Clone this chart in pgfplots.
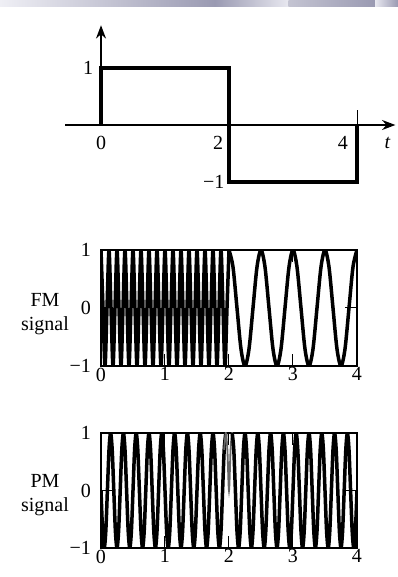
\documentclass[border=0pt]{standalone}
\usepackage{fontspec}
\setmainfont{Liberation Serif}
\usepackage{pgfplots}
\pgfplotsset{compat=1.18}
\usetikzlibrary{arrows.meta}

\definecolor{barA}{HTML}{EFEFF5}
\definecolor{barB}{HTML}{9A9AB2}
\definecolor{barC}{HTML}{E8E8F0}
\definecolor{barD}{HTML}{C4C4D2}

\pgfplotsset{
  sig/.style={
    scale only axis, width=153.6pt,
    xmin=0, xmax=4, ymin=-1, ymax=1,
    xtick={0,1,2,3,4}, ytick={-1,0,1},
    yticklabels={−1,0,1},
    tick align=inside, major tick length=7pt,
    axis line style={line width=1.1pt},
    tick style={line width=0.6pt, black},
    ticklabel style={font=\fontsize{12}{14}\selectfont},
    /pgf/number format/assume math mode=true,
    yticklabel style={xshift=-2.5pt},
    xticklabel style={yshift=2.5pt},
  },
  wave/.style={black, line width=2.1pt, smooth},
}

\begin{document}
\begin{tikzpicture}[font=\fontsize{12}{14}\selectfont]
\useasboundingbox (0,0) rectangle (238.8pt,346.2pt);
% header strip
\shade[left color=barA, right color=barB] (0,342.3pt) rectangle (129pt,346.2pt);
\shade[left color=barB, right color=barC] (129pt,342.3pt) rectangle (173pt,346.2pt);
\shade[left color=barD, right color=barB] (173pt,342.3pt) rectangle (225pt,346.2pt);
\shade[left color=barC, right color=barB] (225pt,342.3pt) rectangle (238.8pt,346.2pt);

% message signal
\begin{axis}[at={(39pt,230.16pt)}, anchor=south west, scale only axis,
  width=198.24pt, height=100.89pt,
  xmin=-0.5625, xmax=4.6, ymin=-1.2, ymax=1.75,
  axis lines=none, clip=false]
\draw[line width=1pt, -{Stealth[length=8pt,width=6pt]}] (axis cs:-0.5625,0) -- (axis cs:4.6,0);
\draw[line width=1pt, -{Stealth[length=8pt,width=6pt]}] (axis cs:0,0) -- (axis cs:0,1.75);
\draw[line width=0.6pt] (axis cs:4,0) -- (axis cs:4,0.26);
\addplot[black, line width=2.6pt, line join=miter] coordinates {
  (0,0) (0,1) (2,1) (2,-1) (4,-1) (4,0)
};
\node at (axis cs:-0.2,1) {1};
\node at (axis cs:0,-0.32) {0};
\node at (axis cs:1.83,-0.32) {2};
\node at (axis cs:3.78,-0.32) {4};
\node at (axis cs:4.48,-0.32) {\textit{t}};
\node at (axis cs:1.76,-1) {−1};
\end{axis}

% FM signal
\begin{axis}[sig, at={(60.6pt,126.6pt)}, anchor=south west, height=69.6pt]
\addplot[wave] coordinates {
  (0,1) (0.03125,0) (0.0625,-1) (0.09375,0)
  (0.125,1) (0.15625,0) (0.1875,-1) (0.21875,0)
  (0.25,1) (0.28125,0) (0.3125,-1) (0.34375,0)
  (0.375,1) (0.40625,0) (0.4375,-1) (0.46875,0)
  (0.5,1) (0.53125,0) (0.5625,-1) (0.59375,0)
  (0.625,1) (0.65625,0) (0.6875,-1) (0.71875,0)
  (0.75,1) (0.78125,0) (0.8125,-1) (0.84375,0)
  (0.875,1) (0.90625,0) (0.9375,-1) (0.96875,0)
  (1,1) (1.03125,0) (1.0625,-1) (1.09375,0)
  (1.125,1) (1.15625,0) (1.1875,-1) (1.21875,0)
  (1.25,1) (1.28125,0) (1.3125,-1) (1.34375,0)
  (1.375,1) (1.40625,0) (1.4375,-1) (1.46875,0)
  (1.5,1) (1.53125,0) (1.5625,-1) (1.59375,0)
  (1.625,1) (1.65625,0) (1.6875,-1) (1.71875,0)
  (1.75,1) (1.78125,0) (1.8125,-1) (1.84375,0)
  (1.875,1) (1.90625,0) (1.9375,-1) (1.96875,0)
  (2,1)
};
\addplot[wave] coordinates {
  (2,1) (2.0625,0.7071) (2.125,0) (2.1875,-0.7071) (2.25,-1) (2.3125,-0.7071) (2.375,0) (2.4375,0.7071)
  (2.5,1) (2.5625,0.7071) (2.625,0) (2.6875,-0.7071) (2.75,-1) (2.8125,-0.7071) (2.875,0) (2.9375,0.7071)
  (3,1) (3.0625,0.7071) (3.125,0) (3.1875,-0.7071) (3.25,-1) (3.3125,-0.7071) (3.375,0) (3.4375,0.7071)
  (3.5,1) (3.5625,0.7071) (3.625,0) (3.6875,-0.7071) (3.75,-1) (3.8125,-0.7071) (3.875,0) (3.9375,0.7071)
  (4,1)
};
\end{axis}
\node[align=center] at (27pt,157.8pt) {FM\\signal};

% PM signal
\begin{axis}[sig, at={(60.6pt,17.4pt)}, anchor=south west, height=69pt]
\addplot[wave] coordinates {
  (0,0) (0.025,-0.7071) (0.05,-1) (0.075,-0.7071) (0.1,0) (0.125,0.7071) (0.15,1) (0.175,0.7071)
  (0.2,0) (0.225,-0.7071) (0.25,-1) (0.275,-0.7071) (0.3,0) (0.325,0.7071) (0.35,1) (0.375,0.7071)
  (0.4,0) (0.425,-0.7071) (0.45,-1) (0.475,-0.7071) (0.5,0) (0.525,0.7071) (0.55,1) (0.575,0.7071)
  (0.6,0) (0.625,-0.7071) (0.65,-1) (0.675,-0.7071) (0.7,0) (0.725,0.7071) (0.75,1) (0.775,0.7071)
  (0.8,0) (0.825,-0.7071) (0.85,-1) (0.875,-0.7071) (0.9,0) (0.925,0.7071) (0.95,1) (0.975,0.7071)
  (1,0) (1.025,-0.7071) (1.05,-1) (1.075,-0.7071) (1.1,0) (1.125,0.7071) (1.15,1) (1.175,0.7071)
  (1.2,0) (1.225,-0.7071) (1.25,-1) (1.275,-0.7071) (1.3,0) (1.325,0.7071) (1.35,1) (1.375,0.7071)
  (1.4,0) (1.425,-0.7071) (1.45,-1) (1.475,-0.7071) (1.5,0) (1.525,0.7071) (1.55,1) (1.575,0.7071)
  (1.6,0) (1.625,-0.7071) (1.65,-1) (1.675,-0.7071) (1.7,0) (1.725,0.7071) (1.75,1) (1.775,0.7071)
  (1.8,0) (1.825,-0.7071) (1.85,-1) (1.875,-0.7071) (1.9,0) (1.925,0.7071) (1.95,1)
};
\addplot[black!60, line width=1.1pt, smooth] coordinates {
  (1.925,0.7071) (1.95,1) (1.975,0.7071) (2,0) (2.025,0.7071) (2.05,1) (2.075,0.7071)
};
\addplot[wave] coordinates {
  (2.05,1) (2.075,0.7071) (2.1,0) (2.125,-0.7071) (2.15,-1) (2.175,-0.7071)
  (2.2,0) (2.225,0.7071) (2.25,1) (2.275,0.7071) (2.3,0) (2.325,-0.7071) (2.35,-1) (2.375,-0.7071)
  (2.4,0) (2.425,0.7071) (2.45,1) (2.475,0.7071) (2.5,0) (2.525,-0.7071) (2.55,-1) (2.575,-0.7071)
  (2.6,0) (2.625,0.7071) (2.65,1) (2.675,0.7071) (2.7,0) (2.725,-0.7071) (2.75,-1) (2.775,-0.7071)
  (2.8,0) (2.825,0.7071) (2.85,1) (2.875,0.7071) (2.9,0) (2.925,-0.7071) (2.95,-1) (2.975,-0.7071)
  (3,0) (3.025,0.7071) (3.05,1) (3.075,0.7071) (3.1,0) (3.125,-0.7071) (3.15,-1) (3.175,-0.7071)
  (3.2,0) (3.225,0.7071) (3.25,1) (3.275,0.7071) (3.3,0) (3.325,-0.7071) (3.35,-1) (3.375,-0.7071)
  (3.4,0) (3.425,0.7071) (3.45,1) (3.475,0.7071) (3.5,0) (3.525,-0.7071) (3.55,-1) (3.575,-0.7071)
  (3.6,0) (3.625,0.7071) (3.65,1) (3.675,0.7071) (3.7,0) (3.725,-0.7071) (3.75,-1) (3.775,-0.7071)
  (3.8,0) (3.825,0.7071) (3.85,1) (3.875,0.7071) (3.9,0) (3.925,-0.7071) (3.95,-1) (3.975,-0.7071)
  (4,0)
};
\end{axis}
\node[align=center] at (27pt,49.2pt) {PM\\signal};
\end{tikzpicture}
\end{document}
